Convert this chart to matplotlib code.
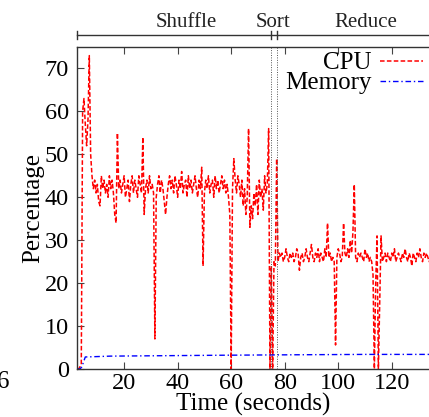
import numpy as np
import matplotlib
matplotlib.use("Agg")
import matplotlib.pyplot as plt

# ---------------- data ----------------
cpu_start = 2.5      # seconds
cpu_step = 0.5       # seconds between samples
cpu_values = [
    0, 0, 0.5, 1, 60, 63, 57, 52, 58, 73,          # 2.5 - 7.0
    50, 45, 42, 44, 41, 43, 39, 38, 45, 42,        # 7.5 - 12.0
    44, 41, 43, 40, 45, 42, 44, 41, 36, 34,        # 12.5 - 17.0
    55, 42, 44, 41, 43, 45, 40, 42, 44, 39,        # 17.5 - 22.0
    43, 45, 41, 44, 42, 40, 45, 43, 41, 54,        # 22.5 - 27.0
    36, 42, 44, 41, 45, 42, 43, 41, 7, 40,         # 27.5 - 32.0
    43, 45, 41, 44, 42, 39, 36, 40, 43, 45,        # 32.5 - 37.0
    42, 44, 41, 45, 43, 40, 44, 42, 46, 41,        # 37.5 - 42.0
    43, 44, 40, 45, 42, 44, 41, 43, 45, 42,        # 42.5 - 47.0
    40, 44, 42, 47, 24, 41, 44, 42, 45, 41,        # 47.5 - 52.0
    43, 44, 40, 45, 42, 44, 41, 43, 45, 42,        # 52.5 - 57.0
    44, 41, 43, 40, 36, 0, 42, 49, 44, 41,         # 57.5 - 62.0
    45, 43, 40, 44, 38, 42, 36, 40, 56, 33,        # 62.5 - 67.0
    38, 35, 41, 38, 43, 36, 44, 40, 42, 37,        # 67.5 - 72.0
    45, 41, 43, 56, 0, 24, 0, 25, 24, 49,          # 72.5 - 77.0
    25, 27, 26, 27, 25, 26, 28, 26, 25, 27,        # 77.5 - 82.0
    26, 27, 25, 26, 28, 27, 23, 26, 27, 25,        # 82.5 - 87.0
    26, 28, 26, 25, 27, 29, 26, 25, 27, 26,        # 87.5 - 92.0
    28, 25, 27, 26, 25, 28, 26, 34, 26, 27,        # 92.5 - 97.0
    25, 26, 25, 5.6, 26, 28, 27, 25, 26, 34,       # 97.5 - 102.0
    27, 26, 28, 26, 30, 27, 32, 43, 26, 25,        # 102.5 - 107.0
    27, 26, 27, 26, 25, 28, 26, 27, 25, 26,        # 107.5 - 112.0
    25, 22, 0, 20, 31, 0, 15, 31, 25, 26,          # 112.5 - 117.0
    27, 25, 27, 26, 25, 27, 26, 28, 25, 26,        # 117.5 - 122.0
    27, 26, 25, 27, 26, 28, 26, 25, 27, 26,        # 122.5 - 127.0
    24, 27, 26, 25, 27, 26, 28, 26, 25, 27,        # 127.5 - 132.0
    26, 27, 26, 25, 26,                            # 132.5 - 134.5
]
cpu_time = cpu_start + cpu_step * np.arange(len(cpu_values))

mem_time = [2.5, 3.5, 4.2, 5.5, 15, 35, 55, 80, 110, 134.5]
mem_values = [0, 0, 0.5, 2.8, 3.0, 3.1, 3.2, 3.3, 3.4, 3.4]

phase_names = ["Shuffle", "Sort", "Reduce"]
phase_label_x = [43.4, 75.8, 110.3]
phase_bounds = [2.4, 74.8, 77.3]

x_ticks = [20, 40, 60, 80, 100, 120]
y_ticks = [0, 10, 20, 30, 40, 50, 60, 70]

# ---------------- figure ----------------
plt.rcParams['font.family'] = ['Liberation Serif', 'DejaVu Serif']
W, H = 429, 417
fig = plt.figure(figsize=(W / 100, H / 100), dpi=100)
ax = fig.add_axes([77 / W, 1 - 369 / H, 1 - 77 / W + 0.002, (369 - 47) / H])

ax.plot(cpu_time, cpu_values, color='#ff0000', lw=1.1, dashes=(3, 1.5),
        label='CPU')
ax.plot(mem_time, mem_values, color='#0000ff', lw=1.0, dashes=(4, 2, 1, 2),
        label='Memory')

for xb in phase_bounds[1:]:
    ax.axvline(xb, color='#555555', lw=0.7, ls=(0, (1, 1.5)))

ax.set_xlim(2.4, 2.4 + (W - 77) / 2.67)
ax.set_ylim(0, 75)
ax.set_xticks(x_ticks)
ax.set_yticks(y_ticks)
ax.tick_params(axis='both', direction='in', labelsize=17.5, length=5,
               width=0.8, color='#444444')
ax.tick_params(axis='x', top=True, pad=3)
ax.tick_params(axis='y', pad=6)
ax.spines['right'].set_visible(False)
for s in ['left', 'bottom', 'top']:
    ax.spines[s].set_linewidth(1.0)
    ax.spines[s].set_color('#333333')

ax.set_xlabel('Time (seconds)', fontsize=18, labelpad=-1)
ax.set_ylabel('Percentage', fontsize=18, labelpad=0)

# phase annotation above the axes
trans = ax.get_xaxis_transform()
y_bar = (369 - 35) / 322
ax.plot([phase_bounds[0], ax.get_xlim()[1] + 5], [y_bar, y_bar],
        transform=trans, color='#333333', lw=1.0, clip_on=False)
for xb in phase_bounds:
    ax.plot([xb, xb], [y_bar - 0.012, y_bar + 0.012], transform=trans,
            color='#333333', lw=1.0, clip_on=False)
for name, xl in zip(phase_names, phase_label_x):
    ax.text(xl, (369 - 27) / 322, name, transform=trans, ha='center',
            va='baseline', fontsize=15, color='#222222')

leg = ax.legend(loc='upper right', bbox_to_anchor=(0.98, 0.985),
                frameon=False, markerfirst=False, fontsize=18,
                handlelength=1.7, handletextpad=0.35, labelspacing=-0.1,
                borderpad=0, borderaxespad=0)

# partial tick label of the neighbouring panel
fig.text(9 / W, 1 - 388 / H, '6', ha='right', va='baseline', fontsize=18)

fig.savefig('out.png', dpi=100)
